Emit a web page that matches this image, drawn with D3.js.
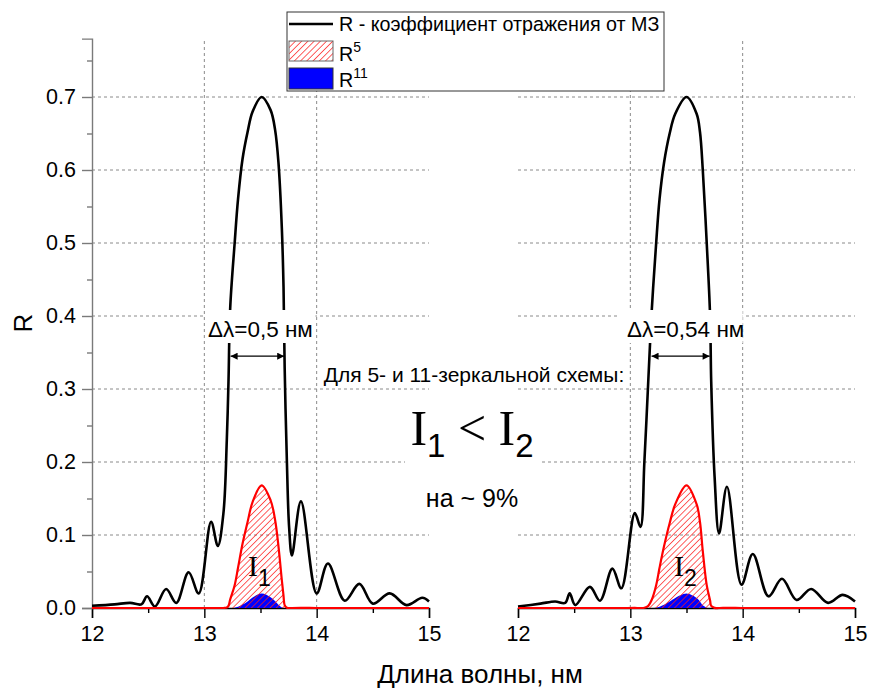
<!DOCTYPE html>
<meta charset="utf-8">
<style>
body { margin: 0; background: #fff; }
text { font-family: "Liberation Sans", Arial, sans-serif; }
.serif { font-family: "Liberation Serif", "Times New Roman", serif; }
.grid line { stroke: #8a8a8a; stroke-width: 1; stroke-dasharray: 3,3; }
</style>
<svg width="870" height="688"></svg>
<script src="https://cdn.jsdelivr.net/npm/d3@7"></script>
<script>

// left panel: R of the multilayer mirror (wavelength nm, R)
var lamL = [12.00,12.20,12.34,12.44,12.49,12.56,12.66,12.75,12.86,12.95,13.06,13.12,13.17,13.20,13.215,13.23,13.27,13.30,13.34,13.385,13.43,13.51,13.59,13.63,13.66,13.69,13.705,13.715,13.735,13.755,13.78,13.86,14.00,14.10,14.25,14.38,14.50,14.65,14.80,14.94,15.00];
var refL = [0.003,0.005,0.007,0.005,0.016,0.002,0.026,0.007,0.049,0.020,0.118,0.085,0.13,0.23,0.31,0.41,0.50,0.56,0.615,0.652,0.68,0.70,0.682,0.655,0.61,0.52,0.44,0.33,0.20,0.11,0.072,0.146,0.020,0.061,0.010,0.033,0.006,0.020,0.004,0.014,0.009];

// right panel
var lamR = [12.00,12.20,12.33,12.42,12.46,12.51,12.64,12.73,12.84,12.92,13.04,13.09,13.125,13.16,13.19,13.23,13.26,13.30,13.35,13.40,13.50,13.59,13.62,13.645,13.68,13.71,13.72,13.75,13.79,13.86,13.99,14.09,14.23,14.35,14.48,14.61,14.76,14.89,15.00];
var refR = [0.002,0.006,0.009,0.007,0.020,0.004,0.029,0.010,0.054,0.027,0.130,0.111,0.20,0.312,0.406,0.50,0.56,0.61,0.65,0.677,0.70,0.677,0.652,0.60,0.50,0.40,0.31,0.18,0.102,0.166,0.032,0.074,0.016,0.040,0.011,0.026,0.007,0.018,0.009];

var xTicks = [12, 13, 14, 15];
var xMinor = [12.5, 13.5, 14.5];
var yTicks = [0, 0.1, 0.2, 0.3, 0.4, 0.5, 0.6, 0.7];
var yMinor = [0.05, 0.15, 0.25, 0.35, 0.45, 0.55, 0.65, 0.75];
var fwhmL = [13.225, 13.72], fwhmR = [13.18, 13.715];
var halfLevel = 0.345;
var labelL = "Δλ=0,5 нм", labelR = "Δλ=0,54 нм";

var svg = d3.select("svg");

var y = d3.scaleLinear().domain([0, 0.78]).range([608, 608 - 0.78 * 730]);
var xL = d3.scaleLinear().domain([12, 15]).range([92, 429]);
var xR = d3.scaleLinear().domain([12, 15]).range([518, 855]);

var defs = svg.append("defs");
var pat = defs.append("pattern")
    .attr("id", "hatch")
    .attr("patternUnits", "userSpaceOnUse")
    .attr("width", 4.4).attr("height", 4.4)
    .attr("patternTransform", "rotate(45)");
pat.append("line")
    .attr("x1", 0).attr("y1", 0).attr("x2", 0).attr("y2", 4.4)
    .attr("stroke", "#ff1a1a").attr("stroke-width", 1.4);

var arr = defs.append("marker")
    .attr("id", "arr")
    .attr("viewBox", "0 0 10 10")
    .attr("refX", 10).attr("refY", 5)
    .attr("markerWidth", 11).attr("markerHeight", 7)
    .attr("markerUnits", "userSpaceOnUse")
    .attr("orient", "auto-start-reverse");
arr.append("path").attr("d", "M0,0L10,5L0,10Z").attr("fill", "#000");

var fontSans = "Liberation Sans, Arial, sans-serif";

function panel(x, lam, ref, fwhm, label, sub, leftAxis) {
  var pts = lam.map(function(d, i) { return [d, ref[i]]; });

  // grid
  var g = svg.append("g").attr("class", "grid");
  g.selectAll(".h").data(yTicks.slice(1)).enter().append("line")
      .attr("x1", x(12)).attr("x2", x(15))
      .attr("y1", function(d) { return y(d); }).attr("y2", function(d) { return y(d); });
  g.selectAll(".v").data([13, 14]).enter().append("line")
      .attr("x1", function(d) { return x(d); }).attr("x2", function(d) { return x(d); })
      .attr("y1", y(0)).attr("y2", y(0.78));

  // axes
  var ax = svg.append("g").attr("transform", "translate(0," + y(0) + ")");
  ax.call(d3.axisBottom(x).tickValues(xTicks).tickSize(10).tickPadding(8).tickFormat(d3.format("d")));
  ax.append("g").call(d3.axisBottom(x).tickValues(xMinor).tickSize(5).tickFormat(""))
    .select(".domain").remove();
  ax.selectAll("path, line").attr("stroke", "#000").attr("stroke-width", 1.4);
  ax.selectAll("text").attr("font-size", 21.5).attr("fill", "#000").attr("font-family", fontSans);

  if (leftAxis) {
    var ay = svg.append("g").attr("transform", "translate(" + x(12) + ",0)");
    ay.call(d3.axisLeft(y).tickValues(yTicks).tickSize(10).tickPadding(6).tickFormat(d3.format(".1f")));
    ay.append("g").call(d3.axisLeft(y).tickValues(yMinor).tickSize(5).tickFormat(""))
      .select(".domain").remove();
    ay.selectAll("path, line").attr("stroke", "#7a7a7a").attr("stroke-width", 1.4);
    ay.selectAll("text").attr("font-size", 21.5).attr("fill", "#000").attr("font-family", fontSans);
  }

  // R curve
  var line = d3.line().x(function(d) { return x(d[0]); }).y(function(d) { return y(d[1]); })
      .curve(d3.curveCatmullRom.alpha(0.5));
  svg.append("path").datum(pts).attr("d", line)
      .attr("fill", "none").attr("stroke", "#000").attr("stroke-width", 2.6);

  // R^11 and R^5
  var p11 = pts.map(function(d) { return [d[0], Math.pow(d[1], 11)]; });
  var p5 = pts.map(function(d) { return [d[0], Math.pow(d[1], 5)]; });
  var area = d3.area().x(function(d) { return x(d[0]); }).y0(y(0)).y1(function(d) { return y(d[1]); })
      .curve(d3.curveCatmullRom.alpha(0.5));
  svg.append("path").datum(p11).attr("d", area).attr("fill", "#0000ff");
  svg.append("path").datum(p5).attr("d", area).attr("fill", "url(#hatch)");
  svg.append("path").datum(p5).attr("d", line)
      .attr("fill", "none").attr("stroke", "#ff0000").attr("stroke-width", 2.2);

  // FWHM label + arrow
  var cx = (x(fwhm[0]) + x(fwhm[1])) / 2;
  svg.append("rect")
      .attr("x", cx - (leftAxis ? 52 : 62)).attr("y", 310)
      .attr("width", leftAxis ? 110 : 124).attr("height", 33).attr("fill", "#fff");
  svg.append("text")
      .attr("x", cx + (leftAxis ? 3 : 5)).attr("y", 337)
      .attr("text-anchor", "middle").attr("font-size", 22.5).text(label);
  svg.append("line")
      .attr("x1", x(fwhm[0]) + 1).attr("x2", x(fwhm[1]) - 1)
      .attr("y1", y(halfLevel)).attr("y2", y(halfLevel))
      .attr("stroke", "#000").attr("stroke-width", 1.2)
      .attr("marker-start", "url(#arr)").attr("marker-end", "url(#arr)");

  // I_n inside hump
  var t = svg.append("text").attr("x", x(13.5) - 1).attr("y", 576).attr("text-anchor", "middle");
  t.append("tspan").attr("class", "serif").attr("font-size", 30).text("I");
  t.append("tspan").attr("font-size", 23).attr("dy", 10).text(sub);
}

panel(xL, lamL, refL, fwhmL, labelL, "1", true);
panel(xR, lamR, refR, fwhmR, labelR, "2", false);

// central annotations
svg.append("rect").attr("x", 405).attr("y", 402).attr("width", 135).attr("height", 66).attr("fill", "#fff");
svg.append("text").attr("x", 474).attr("y", 382).attr("text-anchor", "middle")
    .attr("font-size", 21).text("Для 5- и 11-зеркальной схемы:");
var big = svg.append("text").attr("x", 472).attr("y", 445).attr("text-anchor", "middle");
big.append("tspan").attr("class", "serif").attr("font-size", 50).text("I");
big.append("tspan").attr("font-size", 33).attr("dy", 12).text("1");
big.append("tspan").attr("class", "serif").attr("font-size", 50).attr("dy", -12).text(" < I");
big.append("tspan").attr("font-size", 33).attr("dy", 12).text("2");
svg.append("text").attr("x", 472).attr("y", 507).attr("text-anchor", "middle")
    .attr("font-size", 25).text("на ~ 9%");

// axis titles
svg.append("text").attr("transform", "translate(32,323) rotate(-90)")
    .attr("text-anchor", "middle").attr("font-size", 26).text("R");
svg.append("text").attr("x", 480).attr("y", 683)
    .attr("text-anchor", "middle").attr("font-size", 26).text("Длина волны, нм");

// legend
var lg = svg.append("g");
lg.append("rect").attr("x", 287).attr("y", 12).attr("width", 377).attr("height", 79)
    .attr("fill", "#fff").attr("stroke", "#333").attr("stroke-width", 1);
lg.append("line").attr("x1", 289).attr("x2", 333).attr("y1", 24).attr("y2", 24)
    .attr("stroke", "#000").attr("stroke-width", 2.6);
lg.append("text").attr("x", 339).attr("y", 31).attr("font-size", 19.7)
    .text("R - коэффициент отражения от МЗ");
lg.append("rect").attr("x", 289).attr("y", 41).attr("width", 44).attr("height", 20)
    .attr("fill", "url(#hatch)").attr("stroke", "#666").attr("stroke-width", 1);
var l2 = lg.append("text").attr("x", 339).attr("y", 61).attr("font-size", 19.7);
l2.append("tspan").text("R");
l2.append("tspan").attr("font-size", 14).attr("dy", -9).text("5");
lg.append("rect").attr("x", 289).attr("y", 68).attr("width", 44).attr("height", 21)
    .attr("fill", "#0000ff").attr("stroke", "#333").attr("stroke-width", 1);
var l3 = lg.append("text").attr("x", 339).attr("y", 87).attr("font-size", 19.7);
l3.append("tspan").text("R");
l3.append("tspan").attr("font-size", 14).attr("dy", -9).text("11");

</script>
